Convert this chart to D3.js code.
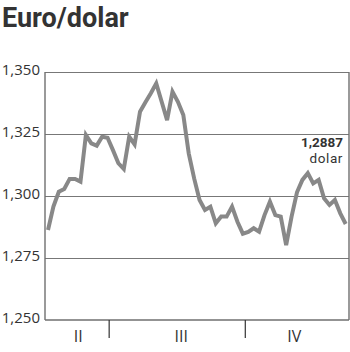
<!DOCTYPE html>
<html>
<head>
<meta charset="utf-8">
<script src="https://cdn.jsdelivr.net/npm/d3@7"></script>
<style>
  html, body { margin: 0; padding: 0; background: #fff; }
  svg { display: block; }
</style>
</head>
<body>
<svg id="chart" width="350" height="352"></svg>
<script>
// ---- data ----
const title = "Euro/dolar";
const values = [
  1.2863, 1.2957, 1.3017, 1.3028, 1.3069, 1.3069, 1.3058, 1.3246, 1.3212, 1.3203,
  1.3239, 1.3235, 1.3185, 1.3132, 1.3109, 1.3239, 1.3208, 1.3340, 1.3378, 1.3414,
  1.3454, 1.3380, 1.3306, 1.3421, 1.3380, 1.3327, 1.3172, 1.3071, 1.2984, 1.2944,
  1.2957, 1.2890, 1.2917, 1.2917, 1.2957, 1.2896, 1.2848, 1.2855, 1.2870, 1.2856,
  1.2923, 1.2977, 1.2923, 1.2917, 1.2802, 1.2917, 1.3015, 1.3065, 1.3092, 1.3051,
  1.3065, 1.2991, 1.2964, 1.2984, 1.2930, 1.2887
];
const yTicks = [1.25, 1.275, 1.30, 1.325, 1.35];
const yTickLabels = ["1,250", "1,275", "1,300", "1,325", "1,350"];
const quarterLabels = ["II", "III", "IV"];
const quarterLabelPos = [5.6, 24.6, 45.5];   // positions on the index axis
const quarterBreaks = [11.3, 36.45];          // quarter boundaries on the index axis
const lastValueLabel = "1,2887";
const unitLabel = "dolar";

// ---- layout ----
const svg = d3.select("#chart");
const plotLeft = 45, plotRight = 349, plotTop = 72, plotBottom = 320;

const x = d3.scaleLinear().domain([0, values.length - 1]).range([48, 345.7]);
const y = d3.scaleLinear().domain([1.25, 1.35]).range([plotBottom, plotTop]);

// title
svg.append("text")
  .attr("x", 2).attr("y", 26.5)
  .attr("font-family", "Roboto, 'DejaVu Sans', sans-serif")
  .attr("font-weight", 700)
  .attr("font-size", 27)
  .attr("fill", "#333")
  .text(title);

// gridlines
svg.append("g").selectAll("line")
  .data(yTicks.slice(1))
  .join("line")
  .attr("x1", plotLeft).attr("x2", plotRight)
  .attr("y1", d => Math.round(y(d)) + 0.5)
  .attr("y2", d => Math.round(y(d)) + 0.5)
  .attr("stroke", "#777").attr("stroke-width", 1.2);

// box left / right / bottom
const box = svg.append("g").attr("stroke", "#6f6f6f").attr("stroke-width", 1.4).attr("fill", "none");
box.append("line").attr("x1", plotLeft).attr("x2", plotLeft).attr("y1", plotTop).attr("y2", plotBottom);
box.append("line").attr("x1", plotRight).attr("x2", plotRight).attr("y1", plotTop).attr("y2", plotBottom);
box.append("line").attr("x1", plotLeft).attr("x2", plotRight).attr("y1", plotBottom).attr("y2", plotBottom);

// y tick labels
svg.append("g").selectAll("text")
  .data(yTicks)
  .join("text")
  .attr("x", 40)
  .attr("y", d => y(d) + 2.5)
  .attr("text-anchor", "end")
  .attr("font-family", "'Open Sans', sans-serif")
  .attr("font-size", 15)
  .attr("fill", "#333")
  .text((d, i) => yTickLabels[i]);

// quarter separators
svg.append("g").selectAll("line")
  .data(quarterBreaks)
  .join("line")
  .attr("x1", d => x(d)).attr("x2", d => x(d))
  .attr("y1", plotBottom).attr("y2", plotBottom + 18)
  .attr("stroke", "#333").attr("stroke-width", 1.2);

// quarter labels
svg.append("g").selectAll("text")
  .data(quarterLabels)
  .join("text")
  .attr("x", (d, i) => x(quarterLabelPos[i]))
  .attr("y", 342)
  .attr("text-anchor", "middle")
  .attr("font-family", "'Open Sans', sans-serif")
  .attr("font-size", 16)
  .attr("fill", "#333")
  .text(d => d);

// data line
const line = d3.line()
  .x((d, i) => x(i))
  .y(d => y(d));

svg.append("path")
  .datum(values)
  .attr("d", line)
  .attr("fill", "none")
  .attr("stroke", "#888")
  .attr("stroke-width", 4)
  .attr("stroke-linejoin", "miter")
  .attr("stroke-linecap", "butt");

// last value annotation
svg.append("text")
  .attr("x", 343).attr("y", 146.5)
  .attr("text-anchor", "end")
  .attr("font-family", "Roboto, sans-serif")
  .attr("font-weight", 700)
  .attr("font-size", 13.5)
  .attr("fill", "#333")
  .text(lastValueLabel);
svg.append("text")
  .attr("x", 343).attr("y", 162.5)
  .attr("text-anchor", "end")
  .attr("font-family", "Roboto, sans-serif")
  .attr("font-size", 13.5)
  .attr("letter-spacing", 0.6)
  .attr("fill", "#333")
  .text(unitLabel);
</script>
</body>
</html>
